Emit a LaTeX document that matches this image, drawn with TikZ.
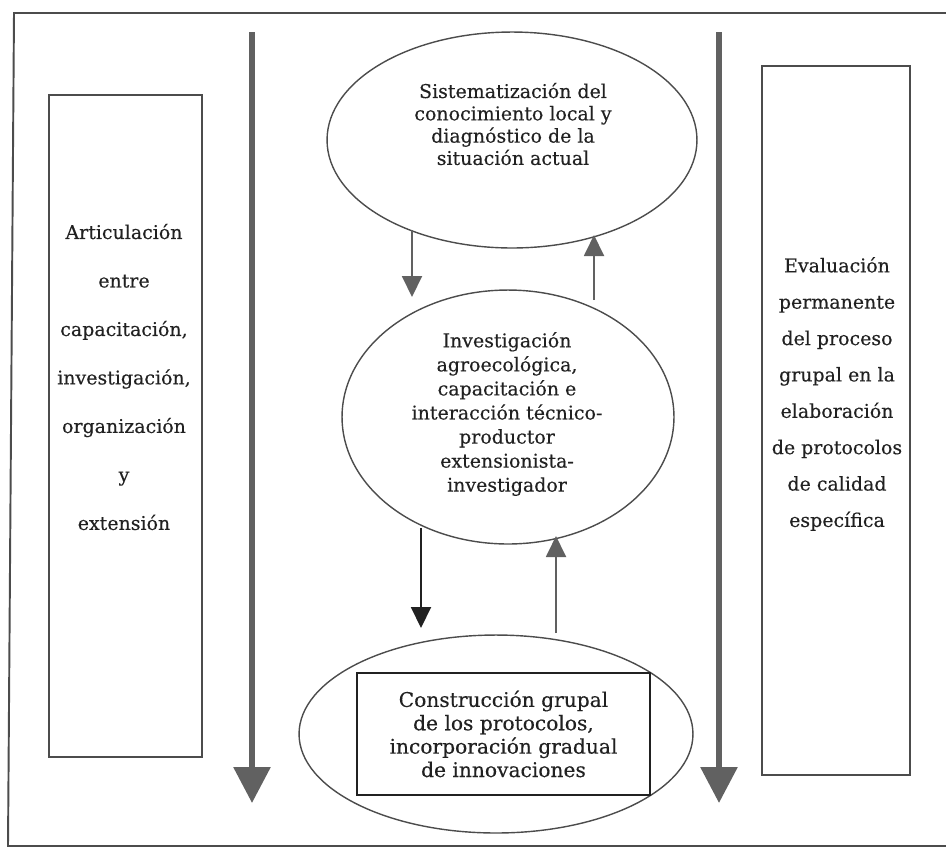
\documentclass[tikz,border=0pt]{standalone}
\usepackage{fontspec}
\setmainfont[FakeBold=0.3]{DejaVu Serif}
\usetikzlibrary{shapes,arrows.meta,positioning}
\definecolor{linegray}{gray}{0.3}
\definecolor{arrowgray}{gray}{0.38}
\definecolor{inkgray}{gray}{0.13}
\def\outerframe{(946,13) -- (14,13) -- (8,846) -- (946,846)}

\begin{document}
\begin{tikzpicture}[x=0.02cm,y=-0.02cm,
  every node/.style={align=center,text=inkgray},
  ell/.style={draw=linegray,line width=0.8pt,ellipse,inner sep=0pt},
  sidebox/.style={draw=linegray,line width=1pt,inner sep=0pt},
  midtext/.style={font=\fontsize{10.8}{12.7}\selectfont},
  bigarrow/.style={draw=arrowgray,line width=3.4pt,-{Triangle[width=0.72cm,length=0.72cm]},fill=arrowgray},
  smallarrow/.style={line width=1.1pt,-{Triangle[width=0.4cm,length=0.42cm]}}]
\useasboundingbox (0,0) rectangle (946,850);
\draw[linegray,line width=1.1pt] \outerframe;
 \node[sidebox,minimum width=3.06cm,minimum height=13.24cm] (artbox) at (125.5,426) {};
 \node[font=\fontsize{10.8}{27.6}\selectfont] (arttext) at (124,377) {Articulación\\entre\\capacitación,\\investigación,\\organización\\y\\extensión};
 \node[sidebox,minimum width=2.96cm,minimum height=14.18cm] (evalbox) at (836,420.5) {};
 \node[font=\fontsize{10.8}{20.7}\selectfont] (evaltext) at (837,394) {Evaluación\\permanente\\del proceso\\grupal en la\\elaboración\\de protocolos\\de calidad\\específica};
\node[ell,minimum width=7.4cm,minimum height=4.32cm] (sist) at (512,140) {};
 \node[midtext] (sisttext) at (513,124) {Sistematización del\\conocimiento local y\\diagnóstico de la\\situación actual};
\node[ell,minimum width=6.64cm,minimum height=5.08cm] (inv) at (508,417) {};
 \node[midtext,font=\fontsize{10.8}{13.7}\selectfont] (invtext) at (507,414) {Investigación\\agroecológica,\\capacitación e\\interacción técnico-\\productor\\extensionista-\\investigador};
\node[ell,minimum width=7.88cm,minimum height=3.96cm] (cons) at (496,734) {};
 \node[draw=inkgray,line width=1.5pt,minimum width=5.86cm,minimum height=2.44cm,font=\fontsize{11.5}{13.3}\selectfont] (constext) at (503.5,734) {Construcción grupal\\de los protocolos,\\incorporación gradual\\de innovaciones};
\coordinate (ltop) at (252,32); \coordinate (lend) at (252,803);
\coordinate (rtop) at (719,32); \coordinate (rend) at (719,803);
\draw[bigarrow] (ltop) -- (lend);
\draw[bigarrow] (rtop) -- (rend);
\coordinate (d1s) at (412,230); \coordinate (d1e) at (412,297);
\coordinate (u1s) at (594,300); \coordinate (u1e) at (594,235);
\coordinate (d2s) at (421,528); \coordinate (d2e) at (421,628);
\coordinate (u2s) at (556,633); \coordinate (u2e) at (556,536);
\draw[smallarrow,arrowgray] (d1s) -- (d1e);
\draw[smallarrow,arrowgray] (u1s) -- (u1e);
\draw[smallarrow,inkgray] (d2s) -- (d2e);
\draw[smallarrow,gray!75!black] (u2s) -- (u2e);
\end{tikzpicture}
\end{document}
